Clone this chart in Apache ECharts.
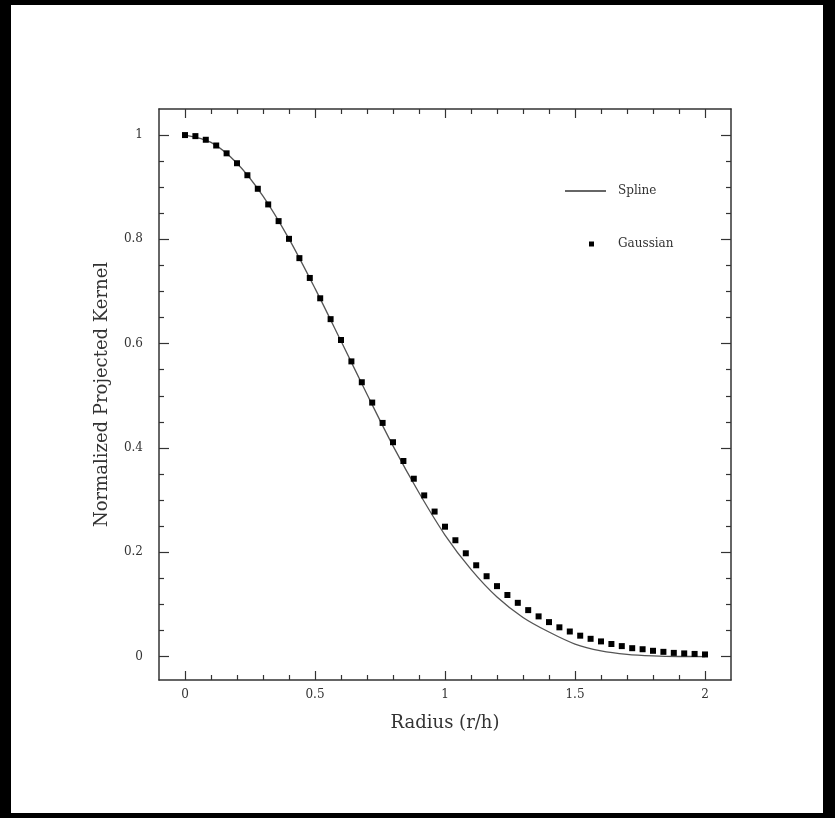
<!DOCTYPE html>
<html>
<head>
<meta charset="utf-8">
<script src="https://cdn.jsdelivr.net/npm/echarts@6/dist/echarts.min.js"></script>
<style>
  html, body { margin: 0; padding: 0; background: #000; }
  #kernel { position: absolute; left: 11px; top: 5px; width: 812px; height: 808px; background: #fff; }
</style>
</head>
<body>
<div id="kernel"></div>
<script>
// spline (projected cubic kernel)
var splineR = [0, 0.1, 0.2, 0.3, 0.4, 0.5, 0.6, 0.7, 0.8, 0.9, 1.0,
               1.1, 1.2, 1.3, 1.4, 1.5, 1.6, 1.7, 1.8, 1.9, 2.0];
var splineW = [1.000, 0.986, 0.946, 0.883, 0.801, 0.706, 0.605, 0.503, 0.404, 0.314, 0.233,
               0.167, 0.114, 0.075, 0.047, 0.024, 0.011, 0.0042, 0.0012, 0.0001, 0];

// gaussian points, every 0.04
var gaussR = [0, 0.04, 0.08, 0.12, 0.16, 0.20, 0.24, 0.28, 0.32, 0.36, 0.40,
              0.44, 0.48, 0.52, 0.56, 0.60, 0.64, 0.68, 0.72, 0.76, 0.80,
              0.84, 0.88, 0.92, 0.96, 1.00, 1.04, 1.08, 1.12, 1.16, 1.20,
              1.24, 1.28, 1.32, 1.36, 1.40, 1.44, 1.48, 1.52, 1.56, 1.60,
              1.64, 1.68, 1.72, 1.76, 1.80, 1.84, 1.88, 1.92, 1.96, 2.00];
var gaussW = [1.000, 0.998, 0.991, 0.980, 0.965, 0.946, 0.923, 0.897, 0.867, 0.835, 0.801,
              0.764, 0.726, 0.687, 0.647, 0.607, 0.566, 0.526, 0.487, 0.448, 0.411,
              0.375, 0.341, 0.309, 0.278, 0.249, 0.223, 0.198, 0.175, 0.154, 0.135,
              0.118, 0.103, 0.089, 0.077, 0.066, 0.056, 0.048, 0.040, 0.034, 0.029,
              0.024, 0.020, 0.016, 0.014, 0.011, 0.009, 0.007, 0.006, 0.005, 0.004];

var xMajor = [0, 0.5, 1, 1.5, 2];
var xMinor = [0.1, 0.2, 0.3, 0.4, 0.6, 0.7, 0.8, 0.9, 1.1, 1.2, 1.3, 1.4, 1.6, 1.7, 1.8, 1.9];
var yMajor = [0, 0.2, 0.4, 0.6, 0.8, 1];
var yMinor = [0.05, 0.1, 0.15, 0.25, 0.3, 0.35, 0.45, 0.5, 0.55, 0.65, 0.7, 0.75, 0.85, 0.9, 0.95];

var ink = '#333';
var font = 'DejaVu Serif';

const pair = (xs, ys) => xs.map((x, i) => [x, ys[i]]);

const axisX = (pos, ticks, len, main) => ({
    type: 'value',
    position: pos,
    min: -0.1,
    max: 2.1,
    splitLine: { show: false },
    axisLine: { show: !!main, onZero: false, lineStyle: { color: ink, width: 1.5 } },
    axisTick: { show: true, inside: true, length: len, customValues: ticks, lineStyle: { color: ink, width: 1.2 } },
    axisLabel: main === 'label'
        ? { show: true, customValues: xMajor, margin: 9, color: ink, fontFamily: font, fontSize: 12 }
        : { show: false }
});

const axisY = (pos, ticks, len, main) => ({
    type: 'value',
    position: pos,
    min: -0.045,
    max: 1.05,
    splitLine: { show: false },
    axisLine: { show: !!main, onZero: false, lineStyle: { color: ink, width: 1.5 } },
    axisTick: { show: true, inside: true, length: len, customValues: ticks, lineStyle: { color: ink, width: 1.2 } },
    axisLabel: main === 'label'
        ? { show: true, customValues: yMajor, margin: 16, color: ink, fontFamily: font, fontSize: 12 }
        : { show: false }
});

const chart = echarts.init(document.getElementById('kernel'));

const xAxes = [
    axisX('bottom', xMajor, 9, 'label'),
    axisX('bottom', xMinor, 5),
    axisX('top', xMajor, 9, true),
    axisX('top', xMinor, 5)
];
Object.assign(xAxes[0], {
    name: 'Radius (r/h)', nameLocation: 'middle', nameGap: 34,
    nameTextStyle: { color: ink, fontFamily: font, fontSize: 18 }
});

const yAxes = [
    axisY('left', yMajor, 10, 'label'),
    axisY('left', yMinor, 5),
    axisY('right', yMajor, 10, true),
    axisY('right', yMinor, 5)
];
Object.assign(yAxes[0], {
    name: 'Normalized Projected Kernel', nameLocation: 'middle', nameGap: 48, nameRotate: 90,
    nameTextStyle: { color: ink, fontFamily: font, fontSize: 18 }
});

chart.setOption({
    backgroundColor: '#fff',
    animation: false,
    grid: { left: 148, top: 104, width: 572, height: 571, containLabel: false },
    xAxis: xAxes,
    yAxis: yAxes,
    legend: [
        {
            left: 549, top: 175, orient: 'vertical',
            itemWidth: 41, itemHeight: 2,
            data: [{ name: 'Spline', icon: 'rect', itemStyle: { color: '#666' } }],
            textStyle: { color: ink, fontFamily: font, fontSize: 12, padding: [0, 0, 0, 7] }
        },
        {
            left: 573, top: 228, orient: 'vertical',
            itemWidth: 5, itemHeight: 5,
            data: [{ name: 'Gaussian', icon: 'rect', itemStyle: { color: '#000' } }],
            textStyle: { color: ink, fontFamily: font, fontSize: 12, padding: [0, 0, 0, 19] }
        }
    ],
    series: [
        {
            name: 'Spline',
            type: 'line',
            data: pair(splineR, splineW),
            smooth: 0.3,
            showSymbol: false,
            color: '#666',
            lineStyle: { color: '#555', width: 1.3 },
            z: 2
        },
        {
            name: 'Gaussian',
            type: 'scatter',
            data: pair(gaussR, gaussW),
            symbol: 'rect',
            symbolSize: 6,
            itemStyle: { color: '#000', opacity: 1 },
            z: 3
        }
    ]
});
</script>
</body>
</html>
